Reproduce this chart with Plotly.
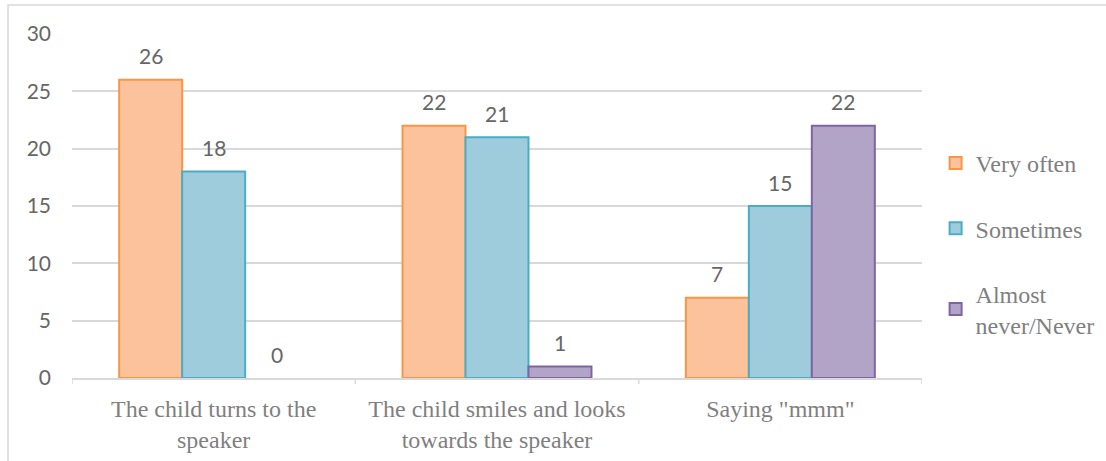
import plotly.graph_objects as go

categories = ["The child turns to the<br>speaker",
              "The child smiles and looks<br>towards the speaker",
              "Saying \"mmm\""]
series_names = ["Very often", "Sometimes", "Almost<br>never/Never"]
very_often = [26, 22, 7]
sometimes = [18, 21, 15]
almost_never = [0, 1, 22]
y_ticks = [0, 5, 10, 15, 20, 25, 30]

series_values = [very_often, sometimes, almost_never]
fills = ["#FCC29C", "#9ECCDC", "#B1A4C6"]
borders = ["#F79646", "#4BACC6", "#8064A2"]

BARGAP = 0.333
SANS = "Lato, 'Open Sans', sans-serif"
SERIF = "'Liberation Serif', 'Times New Roman', serif"
NUM_COLOR = "#666666"
TXT_COLOR = "#7F7F7F"

fig = go.Figure()
for j, (name, vals) in enumerate(zip(series_names, series_values)):
    fig.add_trace(go.Bar(
        x=list(range(len(categories))),
        y=[v if v else None for v in vals],  # zero bars are not drawn
        name=name,
        legendgroup=f"g{j}",
        marker=dict(color=fills[j], line=dict(color=borders[j], width=2)),
        hoverinfo="skip",
    ))

n = len(series_values)
w = (1 - BARGAP) / n
annotations = []
for j, vals in enumerate(series_values):
    for i, v in enumerate(vals):
        annotations.append(dict(
            x=i + (j - (n - 1) / 2) * w, y=v, xref="x", yref="y",
            text=str(v), showarrow=False, yanchor="middle", yshift=24,
            font=dict(family=SANS, size=21, color=NUM_COLOR)))

fig.update_layout(
    width=1106, height=461,
    margin=dict(l=72, r=184, t=34, b=83, autoexpand=False),
    paper_bgcolor="white", plot_bgcolor="white",
    barmode="group", bargap=BARGAP, bargroupgap=0,
    showlegend=True,
    legend=dict(x=1.016, xanchor="left", y=0.39, yanchor="middle",
                tracegroupgap=31, traceorder="grouped",
                font=dict(family=SERIF, size=24, color=TXT_COLOR),
                bgcolor="rgba(0,0,0,0)"),
    annotations=annotations,
    shapes=[dict(type="rect", xref="paper", yref="paper",
                 x0=-0.0753, x1=1.5, y0=-0.5, y1=1.0843,
                 line=dict(color="#D9D9D9", width=1.5), fillcolor="rgba(0,0,0,0)",
                 layer="below")],
)

fig.update_xaxes(
    type="linear",
    range=[-0.5, len(categories) - 0.5],
    tickmode="array", tickvals=list(range(len(categories))), ticktext=categories,
    showgrid=False, zeroline=False,
    showline=True, linecolor="#D9D9D9", linewidth=1.5,
    ticks="", ticklabelstandoff=8, automargin=False,
    tickfont=dict(family=SERIF, size=24, color=TXT_COLOR),
)
# boundary ticks
for b in range(len(categories) + 1):
    fig.add_shape(type="line", xref="x", yref="paper",
                  x0=b - 0.5, x1=b - 0.5, y0=0, y1=-6 / 344,
                  line=dict(color="#D9D9D9", width=1.5))

fig.update_yaxes(
    range=[0, 30], tickmode="array", tickvals=y_ticks,
    showgrid=True, gridcolor="#D9D9D9", gridwidth=1.5,
    zeroline=False, showline=False, ticks="", automargin=False,
    ticklabelstandoff=20,
    tickfont=dict(family=SANS, size=21, color=NUM_COLOR),
)

fig.write_html("out.html")
